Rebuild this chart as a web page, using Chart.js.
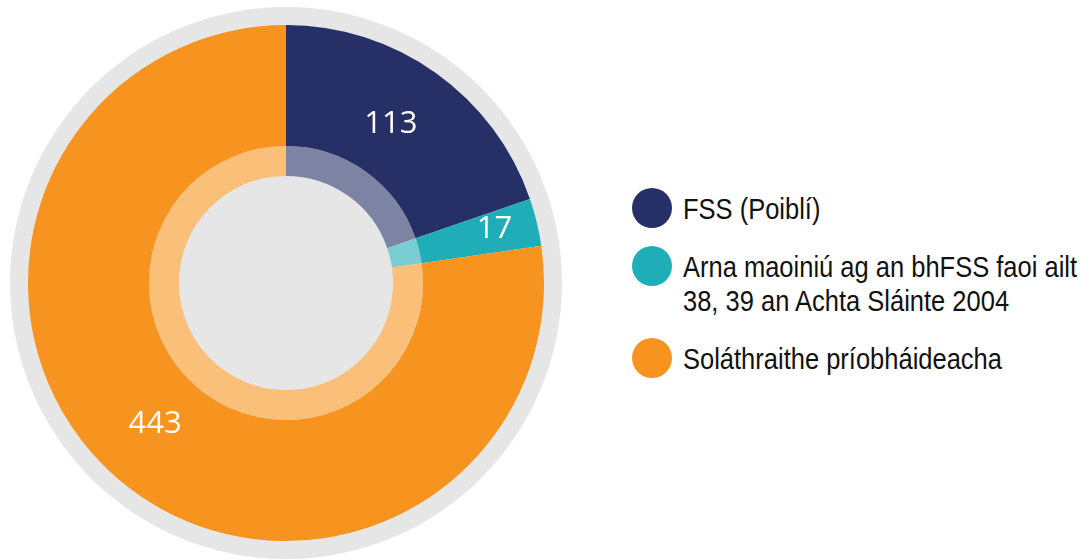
<!DOCTYPE html>
<html>
<head>
<meta charset="utf-8">
<script src="https://cdn.jsdelivr.net/npm/chart.js@4"></script>
<style>
  html, body { margin: 0; padding: 0; background: #fff; overflow: hidden; }
  #wrap { position: relative; width: 1089px; height: 560px; }
  #chart-box { position: absolute; left: 0; top: 0; width: 572px; height: 560px; }
  #legend {
    position: absolute; left: 631px; top: 192px;
    font-family: "Liberation Sans", Arial, sans-serif;
    font-size: 30px; line-height: 34px; color: #111;
  }
  .item { position: relative; padding-left: 52px; margin-bottom: 24px; white-space: nowrap; }
  .dot { position: absolute; left: 1px; top: -4px; width: 40px; height: 40px; border-radius: 50%; }
  .txt { display: inline-block; transform: scaleX(0.85); transform-origin: 0 0; }
</style>
</head>
<body>
<div id="wrap">
  <div id="chart-box"><canvas id="donut"></canvas></div>
  <div id="legend"></div>
</div>
<script>
// データ
const labels = [
  "FSS (Poiblí)",
  ["Arna maoiniú ag an bhFSS faoi ailt", "38, 39 an Achta Sláinte 2004"],
  "Soláthraithe príobháideacha",
];
const values = [113, 17, 443];
const colors = ["#263066", "#1FADB7", "#F7941F"];

// 内側リング用に白を重ねた色
function lighten(hex, a) {
  const n = parseInt(hex.slice(1), 16);
  const ch = [(n >> 16) & 255, (n >> 8) & 255, n & 255].map((c) => Math.round(c + (255 - c) * a));
  return `rgb(${ch.join(",")})`;
}
const lightColors = colors.map((c) => lighten(c, 0.4));

// 背景の灰色の円
const backdrop = {
  id: "backdrop",
  beforeDatasetsDraw(chart) {
    const arc = chart.getDatasetMeta(0).data[0];
    const { ctx } = chart;
    ctx.save();
    ctx.fillStyle = "#E6E6E6";
    ctx.beginPath();
    ctx.arc(arc.x, arc.y, arc.outerRadius + 18, 0, Math.PI * 2);
    ctx.fill();
    ctx.restore();
  },
};

// 値ラベル
const valueLabels = {
  id: "valueLabels",
  afterDatasetsDraw(chart) {
    const { ctx } = chart;
    const total = values.reduce((s, v) => s + v, 0);
    ctx.save();
    ctx.fillStyle = "#fff";
    ctx.font = '31px "Open Sans"';
    ctx.textAlign = "center";
    ctx.textBaseline = "middle";
    chart.getDatasetMeta(0).data.forEach((arc, i) => {
      const mid = (arc.startAngle + arc.endAngle) / 2;
      const small = values[i] / total < 0.05;
      const r = arc.outerRadius * (small ? 0.84 : 0.74);
      const dx = small ? -2 : -6;
      ctx.fillText(String(values[i]), arc.x + Math.cos(mid) * r + dx, arc.y + Math.sin(mid) * r - 3);
    });
    ctx.restore();
  },
};

new Chart(document.getElementById("donut"), {
  type: "doughnut",
  data: {
    labels: labels,
    datasets: [
      { data: values, backgroundColor: colors, borderWidth: 0, weight: 121 },
      { data: values, backgroundColor: lightColors, borderWidth: 0, weight: 30 },
    ],
  },
  options: {
    responsive: true,
    maintainAspectRatio: false,
    animation: false,
    events: [],
    cutout: "41.5%",
    layout: { padding: { left: 28, right: 28, top: 25, bottom: 19 } },
    plugins: { legend: { display: false }, tooltip: { enabled: false } },
  },
  plugins: [backdrop, valueLabels],
});

// 凡例
const legend = document.getElementById("legend");
labels.forEach((lab, i) => {
  const div = document.createElement("div");
  div.className = "item";
  const text = Array.isArray(lab) ? lab.join("<br>") : lab;
  div.innerHTML = `<span class="dot" style="background:${colors[i]}"></span><span class="txt">${text}</span>`;
  legend.appendChild(div);
});
</script>
</body>
</html>
